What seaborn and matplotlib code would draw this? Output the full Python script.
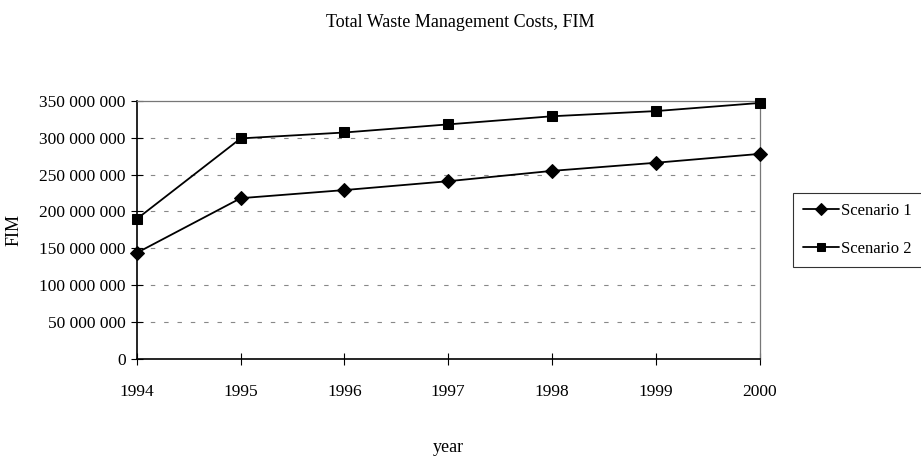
import numpy as np
import pandas as pd
import matplotlib
matplotlib.use("Agg")
import matplotlib.pyplot as plt
import matplotlib.ticker as mticker
import seaborn as sns

years = [1994, 1995, 1996, 1997, 1998, 1999, 2000]
scenario_1 = [144e6, 218e6, 229e6, 241e6, 255e6, 266e6, 278e6]
scenario_2 = [190e6, 299e6, 307e6, 318e6, 329e6, 336e6, 347e6]
series_names = ["Scenario 1", "Scenario 2"]

df = pd.DataFrame({
    "year": years * 2,
    "FIM": scenario_1 + scenario_2,
    "scenario": [series_names[0]] * len(years) + [series_names[1]] * len(years),
})

sns.set_style("white", {"xtick.bottom": True, "ytick.left": True,
                        "text.color": "black", "axes.labelcolor": "black",
                        "xtick.color": "black", "ytick.color": "black"})
plt.rcParams["font.family"] = ["Liberation Serif", "DejaVu Serif"]

fig = plt.figure(figsize=(9.21, 4.58), dpi=100)
ax = fig.add_axes([0.1487, 0.216, 0.676, 0.564])

sns.lineplot(data=df, x="year", y="FIM", hue="scenario", style="scenario",
             markers={"Scenario 1": "D", "Scenario 2": "s"}, dashes=False,
             palette=["black", "black"], markersize=7, linewidth=1.3,
             markeredgecolor="black", ax=ax)
for ln in ax.lines:
    ln.set_clip_on(False)
    ln.set_zorder(5)

ax.set_xlim(1994, 2000)
ax.set_ylim(0, 350e6)
ax.set_xticks(years)
ax.set_yticks(np.arange(0, 350e6 + 1, 50e6))
ax.yaxis.set_major_formatter(mticker.FuncFormatter(lambda v, p: f"{int(v):,}".replace(",", " ")))
ax.tick_params(axis="both", direction="inout", length=8, width=0.8, labelsize=12.5, colors="black", pad=4)
ax.tick_params(axis="x", pad=14)

for yv in np.arange(50e6, 350e6, 50e6):
    ax.axhline(yv, color="#888888", linestyle=(0, (4, 8)), linewidth=0.8, zorder=0)

for s in ["top", "right"]:
    ax.spines[s].set_color("#777777")
    ax.spines[s].set_linewidth(0.9)
for s in ["left", "bottom"]:
    ax.spines[s].set_color("black")
    ax.spines[s].set_linewidth(1.2)

ax.set_xlabel("year", fontsize=13, labelpad=28)
ax.set_ylabel("FIM", fontsize=13, labelpad=12)
fig.suptitle("Total Waste Management Costs, FIM", fontsize=13, y=0.97, color="black")

leg = ax.legend(loc="center left", bbox_to_anchor=(1.053, 0.5), frameon=True,
                fancybox=False, edgecolor="black", fontsize=12,
                handlelength=2.2, borderpad=0.6, labelspacing=1.3, handletextpad=0.1,
                borderaxespad=0, markerscale=0.9)
leg.get_frame().set_linewidth(0.8)

fig.savefig("out.png", dpi=100)
